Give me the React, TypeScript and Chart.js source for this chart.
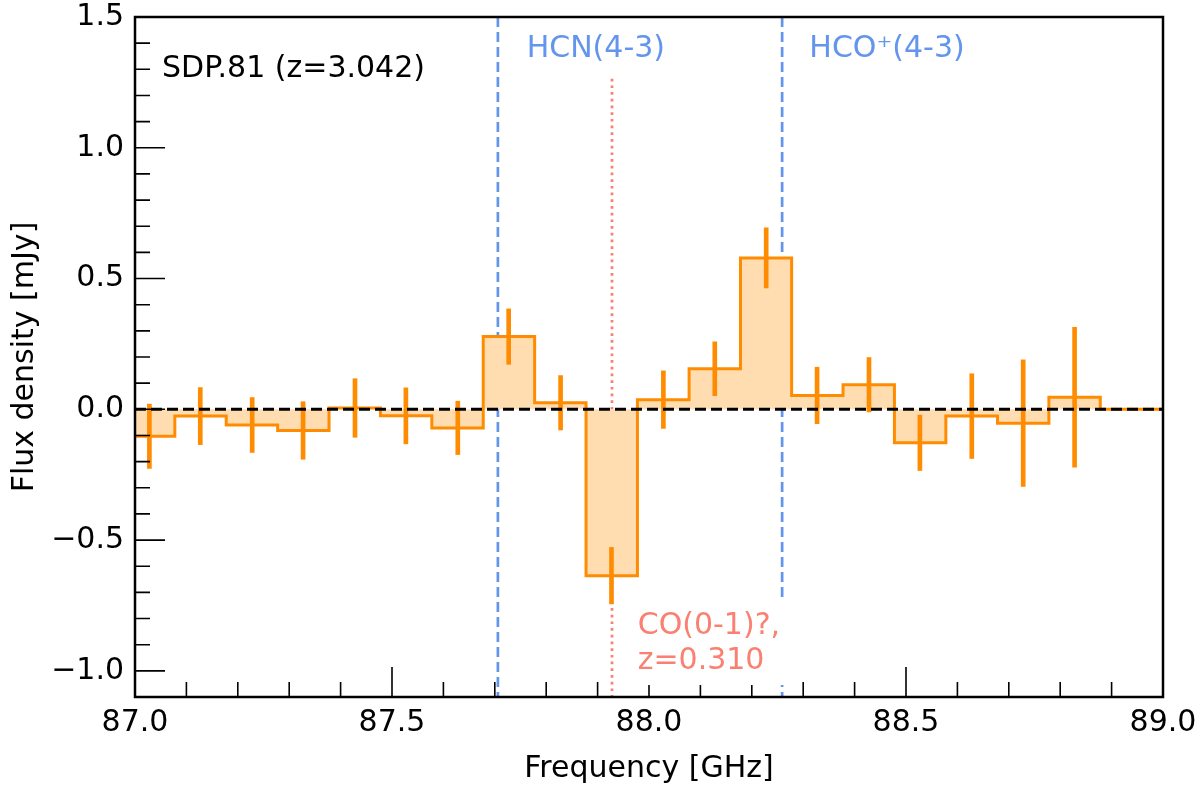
import { useEffect, useRef } from "react";
import { Chart, registerables } from "chart.js";

Chart.register(...registerables);

const FONT = "'DejaVu Sans', sans-serif";

// channel centres [GHz], flux densities and 1-sigma errors [mJy]
const freqGHz = [
  87.028, 87.127, 87.228, 87.327, 87.428, 87.527, 87.628, 87.727, 87.828, 87.927,
  88.028, 88.128, 88.228, 88.327, 88.428, 88.527, 88.628, 88.728, 88.828,
];
const fluxMJy = [
  -0.103, -0.026, -0.06, -0.081, 0.005, -0.025, -0.071, 0.278, 0.025, -0.636,
  0.037, 0.155, 0.579, 0.053, 0.094, -0.128, -0.026, -0.053, 0.046,
];
const fluxErr = [
  0.123, 0.109, 0.105, 0.11, 0.112, 0.107, 0.102, 0.106, 0.104, 0.108,
  0.11, 0.103, 0.115, 0.108, 0.104, 0.106, 0.162, 0.242, 0.267,
];
const channelWidth = 0.1;

const xRange = [87.0, 89.0];
const yRange = [-1.1, 1.5];
const xTicks = [87.0, 87.5, 88.0, 88.5, 89.0];
const yTicks = [-1.0, -0.5, 0.0, 0.5, 1.0, 1.5];

// expected lines: HCN(4-3), HCO+(4-3) and the foreground CO(0-1)
const lineFreqs = [87.706, 88.259];
const coFreq = 87.928;
const coTop = 1.264;

const labelTexts = ["SDP.81 (z=3.042)", "HCN(4-3)", "HCO\u207A(4-3)", "CO(0-1)?,", "z=0.310"];
const labelX = [87.0525, 87.762, 88.312, 87.978, 87.978];
const labelY = [1.27, 1.347, 1.347, -0.86, -0.993];
const labelColors = ["#000000", "#6495ED", "#6495ED", "#FA8072", "#FA8072"];

const ORANGE = "#FF8C00";

function stepPoints() {
  const edges = [freqGHz[0] - channelWidth / 2];
  for (let i = 1; i < freqGHz.length; i++) edges.push((freqGHz[i - 1] + freqGHz[i]) / 2);
  edges.push(freqGHz[freqGHz.length - 1] + channelWidth / 2);
  const pts: { x: number; y: number }[] = [];
  fluxMJy.forEach((v, i) => {
    pts.push({ x: edges[i], y: v }, { x: edges[i + 1], y: v });
  });
  pts.push({ x: edges[edges.length - 1], y: 0 }, { x: xRange[1] + 0.2, y: 0 });
  return pts;
}

const decor = {
  id: "decor",
  afterDatasetsDraw(chart: any) {
    const { ctx, chartArea, scales } = chart;
    const xs = scales.x;
    const ys = scales.y;
    ctx.save();
    // inward ticks on bottom and left
    ctx.strokeStyle = "#000";
    ctx.lineWidth = 1.6;
    ctx.beginPath();
    for (let k = 0; k <= 20; k++) {
      const px = xs.getPixelForValue(xRange[0] + k * 0.1);
      const len = k % 5 === 0 ? 30 : 15;
      ctx.moveTo(px, chartArea.bottom);
      ctx.lineTo(px, chartArea.bottom - len);
    }
    for (let k = -11; k <= 15; k++) {
      const py = ys.getPixelForValue(k / 10);
      const len = k % 5 === 0 ? 30 : 15;
      ctx.moveTo(chartArea.left, py);
      ctx.lineTo(chartArea.left + len, py);
    }
    ctx.stroke();

    ctx.font = `30px ${FONT}`;
    ctx.textAlign = "left";
    ctx.textBaseline = "alphabetic";

    // white box behind the CO label
    const bx = xs.getPixelForValue(labelX[3]);
    const b1 = ys.getPixelForValue(labelY[3]);
    const b2 = ys.getPixelForValue(labelY[4]);
    const w = Math.max(ctx.measureText(labelTexts[3]).width, ctx.measureText(labelTexts[4]).width);
    ctx.fillStyle = "#ffffff";
    ctx.fillRect(bx - 9, b1 - 28 - 9, w + 18, b2 - b1 + 28 + 7 + 18);

    labelTexts.forEach((t, i) => {
      ctx.fillStyle = labelColors[i];
      ctx.fillText(t, xs.getPixelForValue(labelX[i]), ys.getPixelForValue(labelY[i]));
    });

    // frame
    ctx.lineWidth = 2.5;
    ctx.strokeRect(chartArea.left, chartArea.top, chartArea.right - chartArea.left, chartArea.bottom - chartArea.top);
    ctx.restore();
  },
  afterDraw(chart: any) {
    const { ctx, chartArea } = chart;
    ctx.save();
    ctx.fillStyle = "#000";
    ctx.font = `30px ${FONT}`;
    ctx.textAlign = "center";
    ctx.textBaseline = "alphabetic";
    ctx.fillText("Frequency [GHz]", (chartArea.left + chartArea.right) / 2, 777);
    ctx.translate(33, (chartArea.top + chartArea.bottom) / 2);
    ctx.rotate(-Math.PI / 2);
    ctx.fillText("Flux density [mJy]", 0, 0);
    ctx.restore();
  },
};

function noScalePadding(scale: any) {
  scale.paddingTop = 0;
  scale.paddingBottom = 0;
  scale.paddingLeft = 0;
  scale.paddingRight = 0;
}

export default function App() {
  const chartRef = useRef<HTMLCanvasElement>(null);
  const chartInstance = useRef<Chart | null>(null);

  useEffect(() => {
    if (!chartRef.current) return;
    if (chartInstance.current) chartInstance.current.destroy();

    const datasets: any[] = [
      {
        type: "line",
        label: "zero",
        data: [{ x: xRange[0], y: 0 }, { x: xRange[1] + 0.1, y: 0 }],
        borderColor: "#000",
        borderWidth: 3,
        borderDash: [11, 5],
        pointRadius: 0,
        fill: false,
        order: 0,
      },
      {
        type: "bar",
        label: "errors",
        data: freqGHz.map((f, i) => ({ x: f, y: [fluxMJy[i] - fluxErr[i], fluxMJy[i] + fluxErr[i]] })),
        backgroundColor: ORANGE,
        borderWidth: 0,
        barThickness: 4,
        grouped: false,
        order: 1,
      },
      {
        type: "line",
        label: "spectrum",
        data: stepPoints(),
        borderColor: ORANGE,
        borderWidth: 3,
        backgroundColor: "rgb(255, 221, 176)",
        fill: "origin",
        pointRadius: 0,
        tension: 0,
        borderJoinStyle: "miter",
        order: 2,
      },
      ...lineFreqs.map((f) => ({
        type: "line",
        label: "line",
        data: [{ x: f, y: yRange[1] }, { x: f, y: yRange[0] - 0.1 }],
        borderColor: "#6495ED",
        borderWidth: 2.7,
        borderDash: [10, 5],
        pointRadius: 0,
        fill: false,
        order: 3,
      })),
      {
        type: "line",
        label: "co",
        data: [{ x: coFreq, y: coTop }, { x: coFreq, y: yRange[0] - 0.1 }],
        borderColor: "#FA8072",
        borderWidth: 2.7,
        borderDash: [2.7, 4],
        pointRadius: 0,
        fill: false,
        order: 3,
      },
    ];

    chartInstance.current = new Chart(chartRef.current, {
      type: "line",
      data: { datasets },
      plugins: [decor],
      options: {
        animation: false,
        responsive: true,
        maintainAspectRatio: false,
        events: [],
        layout: { padding: { left: 0, top: 17, right: 37, bottom: 0 } },
        plugins: { legend: { display: false }, tooltip: { enabled: false } },
        scales: {
          x: {
            type: "linear",
            min: xRange[0],
            max: xRange[1],
            offset: false,
            grid: { display: false, drawTicks: false, offset: false },
            border: { display: false },
            afterBuildTicks: (scale: any) => {
              scale.ticks = xTicks.map((v) => ({ value: v }));
            },
            afterFit: (scale: any) => {
              scale.height = 90;
              noScalePadding(scale);
            },
            ticks: {
              padding: 8,
              color: "#000",
              maxRotation: 0,
              autoSkip: false,
              font: { family: FONT, size: 30 },
              callback: (v: any) => Number(v).toFixed(1),
            },
          },
          y: {
            type: "linear",
            min: yRange[0],
            max: yRange[1],
            grid: { display: false, drawTicks: false },
            border: { display: false },
            afterBuildTicks: (scale: any) => {
              scale.ticks = yTicks.map((v) => ({ value: v }));
            },
            afterFit: (scale: any) => {
              scale.width = 135;
              noScalePadding(scale);
            },
            ticks: {
              padding: 11,
              color: "#000",
              autoSkip: false,
              font: { family: FONT, size: 30 },
              callback: (v: any) => Number(v).toFixed(1).replace("-", "\u2212"),
            },
          },
        },
      },
    });

    return () => {
      if (chartInstance.current) {
        chartInstance.current.destroy();
        chartInstance.current = null;
      }
    };
  }, []);

  return (
    <div style={{ position: "fixed", left: 0, top: 0, width: 1200, height: 787, background: "#fff" }}>
      <canvas ref={chartRef}></canvas>
    </div>
  );
}
